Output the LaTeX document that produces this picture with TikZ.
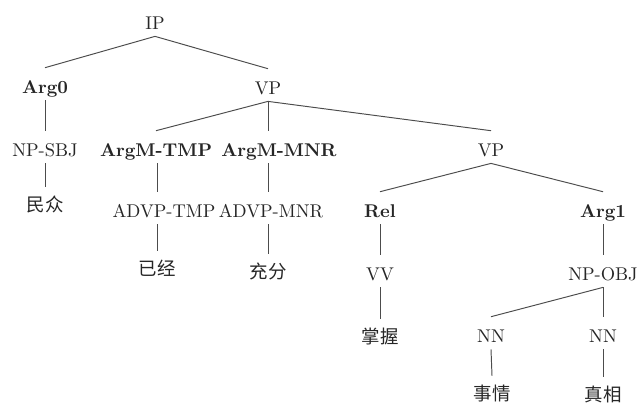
\documentclass[tikz,border=0pt]{standalone}
\usepackage{fontspec}
\newfontfamily\cjk{Noto Sans CJK SC}
\tikzset{
  tag/.style={anchor=base, inner xsep=1pt, inner ysep=4pt, text height=10.2pt, text depth=0pt, text=black!85, font=\fontsize{10.5}{12}\selectfont},
  role/.style={tag, font=\fontsize{10.5}{12}\selectfont\bfseries},
  word/.style={tag, text height=9.5pt, font=\fontsize{10.5}{12}\selectfont\cjk},
  branch/.style={draw=black!70, line width=0.55pt}
}
\begin{document}
\begin{tikzpicture}[x=0.02cm,y=-0.02cm]
\useasboundingbox (0,0) rectangle (638,403);
\clip (0,0) rectangle (638,403);
\node[tag] (ip) at (155,29) {IP};
\node[role] (arg0) at (45,93) {Arg0};
\node[tag] (vp) at (268,94) {VP};
\node[tag] (npsbj) at (45,156) {NP-SBJ};
\node[role] (argmtmp) at (156,156) {ArgM-TMP};
\node[role] (argmmnr) at (279,156) {ArgM-MNR};
\node[tag] (vpb) at (491,156) {VP};
\node[word] (minzhong) at (45,211) {民众};
\node[tag] (advptmp) at (164,217) {ADVP-TMP};
\node[tag] (advpmnr) at (271,217) {ADVP-MNR};
\node[role] (rel) at (380,217) {Rel};
\node[role] (arg1) at (603,217) {Arg1};
\node[word] (yijing) at (157,275) {已经};
\node[word] (chongfen) at (268,278) {充分};
\node[tag] (vv) at (380,280) {VV};
\node[tag] (npobj) at (603,280) {NP-OBJ};
\node[word] (zhangwo) at (380,343) {掌握};
\node[tag] (nna) at (491,342) {NN};
\node[tag] (nnb) at (603,342) {NN};
\node[word] (shiqing) at (492,400) {事情};
\node[word] (zhenxiang) at (603,401) {真相};
\draw[branch] (ip.south) -- (arg0.north);
\draw[branch] (ip.south) -- (vp.north);
\draw[branch] (arg0.south) -- (npsbj.north);
\draw[branch] (npsbj.south) -- (minzhong.north);
\draw[branch] (vp.south) -- (argmtmp.north);
\draw[branch] (vp.south) -- (vp.south |- argmmnr.north);
\draw[branch] (vp.south) -- (vpb.north);
\draw[branch] (yijing.north |- argmtmp.south) -- (yijing.north |- advptmp.north);
\draw[branch] (yijing.north |- advptmp.south) -- (yijing.north);
\draw[branch] (chongfen.north |- argmmnr.south) -- (chongfen.north |- advpmnr.north);
\draw[branch] (chongfen.north |- advpmnr.south) -- (chongfen.north);
\draw[branch] (vpb.south) -- (rel.north);
\draw[branch] (vpb.south) -- (arg1.north);
\draw[branch] (rel.south) -- (vv.north);
\draw[branch] (vv.south) -- (zhangwo.north);
\draw[branch] (arg1.south) -- (npobj.north);
\draw[branch] (npobj.south) -- (nna.north);
\draw[branch] (npobj.south) -- (nnb.north);
\draw[branch] (nna.south) -- (shiqing.north);
\draw[branch] (nnb.south) -- (zhenxiang.north);
\end{tikzpicture}
\end{document}
